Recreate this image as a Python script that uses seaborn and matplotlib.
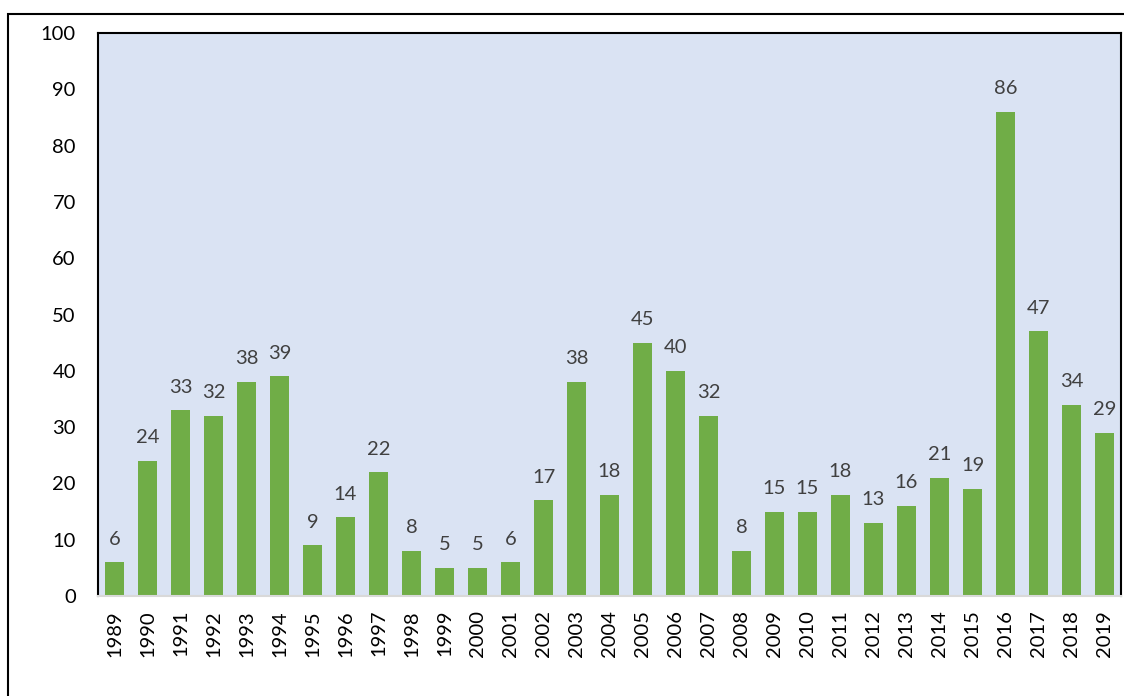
import matplotlib
matplotlib.use('Agg')
import matplotlib.pyplot as plt
import seaborn as sns
import pandas as pd
from matplotlib.patches import Rectangle

# ── Data ────────────────────────────────────────────────────────────────────
years = [str(y) for y in range(1989, 2020)]
counts = [6, 24, 33, 32, 38, 39, 9, 14, 22, 8, 5, 5, 6, 17, 38, 18, 45, 40, 32,
          8, 15, 15, 18, 13, 16, 21, 19, 86, 47, 34, 29]
y_ticks = list(range(0, 101, 10))

df = pd.DataFrame({'year': years, 'count': counts})

sns.set_theme(style='white')
plt.rcParams['font.family'] = ['Lato', 'DejaVu Sans']

fig = plt.figure(figsize=(11.24, 6.96), dpi=100)
ax = fig.add_axes([98 / 1124, 1 - 596 / 696, (1121 - 98) / 1124, (596 - 33) / 696])

sns.barplot(data=df, x='year', y='count', color='#70AD47', width=0.58,
            saturation=1, linewidth=0, ax=ax)

ax.set_facecolor('#DAE3F3')
ax.set_xlim(-0.5, len(years) - 0.5)
ax.set_ylim(0, 100)
ax.set_yticks(y_ticks)
ax.set_xlabel(''); ax.set_ylabel('')
ax.tick_params(axis='y', labelsize=14.5, colors='black', length=0, pad=16)
ax.tick_params(axis='x', labelsize=14.5, colors='black', length=0, rotation=90, pad=10)

for side in ['left', 'top', 'right']:
    ax.spines[side].set_color('black')
    ax.spines[side].set_linewidth(1.5)
ax.spines['bottom'].set_color('#D9D9D9')
ax.spines['bottom'].set_linewidth(1.5)

for p, v in zip(ax.patches, counts):
    ax.text(p.get_x() + p.get_width() / 2, v + 2.6, str(v),
            ha='center', va='bottom', fontsize=14.5, color='#404040')

# outer chart frame (cropped by the image edges)
fig.patches.append(Rectangle((8 / 1124, -0.05), 1.1, 1 - 14 / 696 + 0.05,
                             transform=fig.transFigure, fill=False,
                             edgecolor='black', linewidth=1.5))

fig.savefig('out.png', dpi=100)
